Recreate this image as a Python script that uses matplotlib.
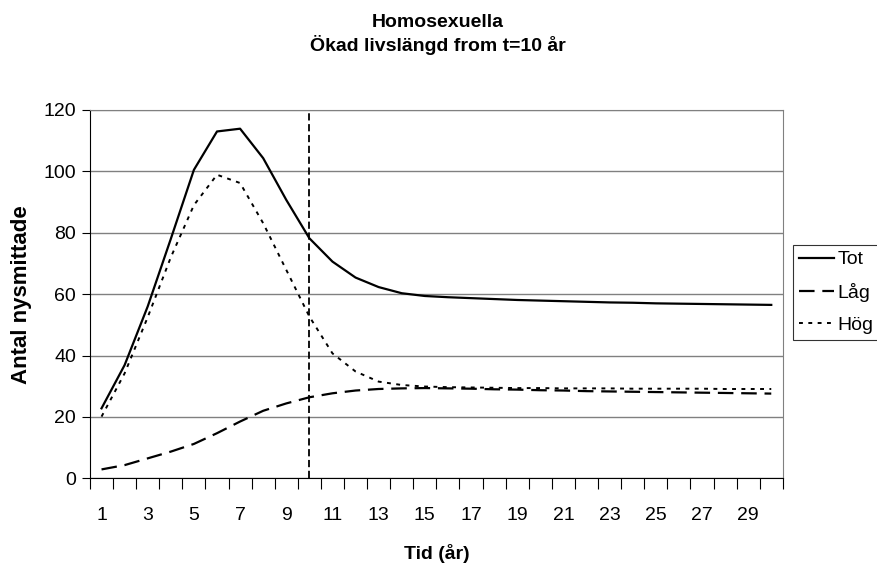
import numpy as np
import matplotlib
matplotlib.use("Agg")
import matplotlib.pyplot as plt

plt.rcParams['font.family'] = ['Liberation Sans', 'DejaVu Sans']

ar = list(range(1, 31))
tot = [22.8, 36.9, 56.0, 78.0, 100.5, 113.0, 113.9, 104.3, 90.7, 78.2,
       70.6, 65.4, 62.3, 60.3, 59.4, 59.0, 58.7, 58.4, 58.1, 57.9,
       57.7, 57.5, 57.3, 57.2, 57.0, 56.9, 56.8, 56.7, 56.6, 56.5]
lag = [2.9, 4.3, 6.5, 8.7, 11.2, 14.7, 18.5, 22.0, 24.4, 26.4,
       27.7, 28.6, 29.1, 29.3, 29.4, 29.3, 29.2, 29.0, 28.9, 28.7,
       28.6, 28.4, 28.3, 28.2, 28.1, 28.0, 27.9, 27.8, 27.7, 27.6]
hog = [20.1, 34.2, 52.5, 72.0, 89.0, 98.9, 96.2, 83.1, 67.9, 52.7,
       40.7, 34.8, 31.5, 30.4, 29.9, 29.7, 29.6, 29.5, 29.4, 29.4,
       29.3, 29.3, 29.3, 29.2, 29.2, 29.2, 29.2, 29.1, 29.1, 29.1]
t_andring = 10
xticklabels = [str(v) if v % 2 == 1 else '' for v in ar]

fig = plt.figure(figsize=(8.77, 5.74), dpi=100)
ax = fig.add_axes([0.1026, 0.1667, 0.79, 0.6417])

ax.plot(ar, tot, color='black', lw=1.6, label='Tot')
ax.plot(ar, lag, color='black', lw=1.6, dashes=(7, 3.5), label='Låg')
ax.plot(ar, hog, color='black', lw=1.4, dashes=(2, 2.8), label='Hög')
ax.axvline(t_andring, color='black', lw=1.3, dashes=(4, 2))

ax.set_xlim(0.5, 30.5)
ax.set_ylim(0, 120)
ax.set_yticks(range(0, 121, 20))
ax.yaxis.grid(True, color='#808080', lw=1)
ax.set_axisbelow(True)

ax.set_xticks(np.arange(0.5, 31, 1), minor=False)
ax.set_xticklabels([])
ax.set_xticks(ar, minor=True)
ax.set_xticklabels(xticklabels, minor=True)
ax.tick_params(axis='x', which='major', length=8, direction='out', color='black')
ax.tick_params(axis='x', which='minor', length=0, pad=21, labelsize=14)
ax.tick_params(axis='y', length=6, direction='out', color='black', labelsize=14, pad=4)

for s in ['left', 'bottom']:
    ax.spines[s].set_color('black')
for s in ['top', 'right']:
    ax.spines[s].set_color('#808080')

ax.set_ylabel('Antal nysmittade', fontsize=16, fontweight='bold', labelpad=8)
ax.set_xlabel('Tid (år)', fontsize=14, fontweight='bold', labelpad=14)

fig.text(0.4994, 1 - 26.7 / 574, 'Homosexuella', ha='center', va='baseline',
         fontsize=14, fontweight='bold')
fig.text(0.4994, 1 - 51 / 574, 'Ökad livslängd from t=10 år', ha='center', va='baseline',
         fontsize=14, fontweight='bold')

leg = ax.legend(loc='upper left', bbox_to_anchor=(793 / 877, 1 - 245 / 574),
                bbox_transform=fig.transFigure, frameon=True, fancybox=False,
                edgecolor='black', fontsize=14, handlelength=1.8, handletextpad=0.2,
                borderpad=0.3, labelspacing=0.75, borderaxespad=0)
leg.get_frame().set_linewidth(0.8)

fig.savefig('out.png', dpi=100)
